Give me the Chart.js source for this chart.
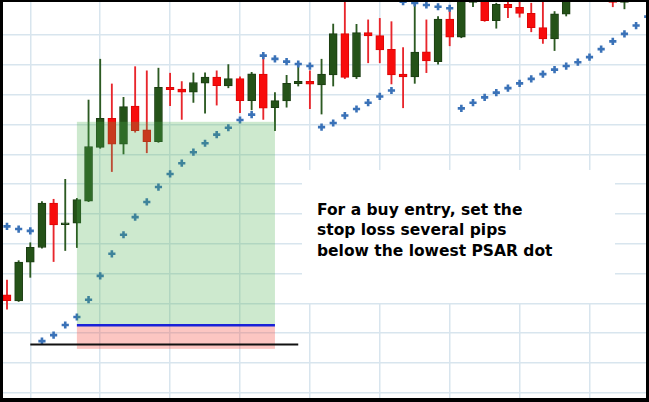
<!DOCTYPE html>
<html>
<head>
<meta charset="utf-8">
<script src="https://cdn.jsdelivr.net/npm/chart.js@4.4.1/dist/chart.umd.min.js"></script>
<style>
  html, body { margin: 0; padding: 0; background: #fff; }
  #frame {
    position: relative;
    width: 643px; height: 396px;
    border-style: solid; border-color: #000;
    border-width: 2px 3px 4px 3px;
  }
  #chart { display: block; }
  #note {
    position: absolute; left: 299px; top: 168px;
    width: 313px; height: 133px; background: #fff;
  }
  #note p {
    position: absolute; left: 15px; top: 29.5px; margin: 0;
    font: bold 15.5px 'DejaVu Sans', Verdana, sans-serif;
    line-height: 20.5px; color: #000; white-space: nowrap;
  }
</style>
</head>
<body>
<div id="frame">
  <canvas id="chart" width="643" height="396"></canvas>
  <div id="note"><p>For a buy entry, set the<br>stop loss several pips<br>below the lowest PSAR dot</p></div>
</div>
<script>
// Candle values in pips above an arbitrary base, one entry per bar (index = bar number)
const openPrices  = [32.8, 30.8, 43.8, 48.7, 63.6, 56.4, 56.9, 64.3, 82.3, 92.1, 83.4, 96.2, 88.2, 84.2,
  102.5, 101.9, 100.8, 103.9, 105.9, 102.9, 105.4, 98.0, 106.9, 95.6, 97.9, 103.7, 104.5, 103.3, 106.6,
  120.5, 106.0, 120.8, 119.8, 115.2, 106.9, 106.0, 114.4, 111.1, 125.4, 119.3, 131.0, 136, 124.8, 130.3,
  129.3, 127.3, 122.5, 118.7, 127.0, 134, 138, 135, 134, 131.0, 135];
const highPrices  = [37.8, 44.3, 50.3, 64.1, 64.9, 71.6, 65.2, 98.2, 111.9, 103.6, 99.1, 109.4, 108.0, 108.9,
  107.2, 104.4, 107.3, 107.3, 108.0, 110.1, 106.0, 107.5, 113.0, 100.7, 106.5, 110.5, 108.0, 111.9, 123.7,
  134, 123.6, 125.1, 125.6, 124.5, 115.8, 133, 125.1, 126.2, 129.3, 136, 138, 138, 130.7, 133,
  132, 130.7, 133, 127.9, 136, 140, 141, 141, 136, 136, 138];
const lowPrices   = [28.0, 30.6, 38.7, 48.5, 44.0, 47.7, 48.7, 64.1, 82.0, 74.2, 80.1, 87.4, 80.5, 84.0,
  96.3, 91.7, 97.4, 93.8, 96.5, 102.3, 94.0, 94.9, 91.7, 87.9, 95.8, 102.9, 95.3, 93.5, 102.9,
  105.4, 105.4, 110.7, 110.7, 103.6, 95.6, 103.8, 107.4, 110.2, 116.4, 119.1, 129.5, 124.6, 122.3, 125.8,
  126.0, 121.1, 117.2, 114.8, 126.4, 132.5, 133, 134, 129.5, 128.8, 133];
const closePrices = [30.9, 43.8, 48.8, 63.6, 56.3, 57.0, 64.8, 82.6, 92.1, 83.4, 96.0, 87.9, 84.2, 102.5,
  101.7, 100.8, 104.1, 105.9, 103.0, 105.4, 98.0, 107.0, 95.5, 98.0, 103.8, 104.5, 103.5, 106.9, 120.5,
  105.8, 120.8, 119.7, 115.0, 106.6, 106.0, 114.3, 111.3, 125.4, 119.3, 134, 136, 124.8, 130.3, 129.2,
  127.3, 122.5, 118.7, 127.1, 134, 138, 135, 139, 131.0, 134, 137];

// Parabolic SAR dots (one more than the candles, the last one sits on the right edge)
const psarValues = [55.8, 54.9, 54.3, 17.3, 19.3, 22.7, 25.4, 31.2, 39.2, 46.6, 53.0, 58.9, 64.0, 69.0,
  73.4, 77.0, 80.7, 83.7, 86.6, 88.9, 91.5, 93.3, 113.1, 112.0, 111.1, 110.3, 109.6, 89.1, 90.5,
  93.0, 95.2, 97.3, 99.4, 101.4, 131.2, 130.8, 130.1, 129.5, 129.0, 95.4, 97.3, 99.1, 100.7, 102.2,
  103.8, 105.3, 106.9, 108.4, 109.6, 110.9, 112.6, 115.3, 117.9, 120.4, 123.2, 126.2];

// Trade setup levels
const entryBar = 6;
const boxEndBar = 23;
const targetPrice = 90.9;
const entryPrice = 22.6;
const stopPrice = 14.7;
const lowestDotLine = 16.2;
const lowestLineStart = 2;
const lowestLineEnd = 25;

// Grid positions
const gridBars = [2, 8, 14, 20, 26, 32, 38, 44, 50];
const gridPrices = [0, 10, 20, 30, 40, 50, 60, 70, 80, 90, 100, 110, 120];

const GREEN = '#245218';
const GREEN_EDGE = '#1b3d12';
const RED = '#f80c0c';
const RED_EDGE = '#dc0606';
const GRID = '#d8e5ee';

const isUp = i => closePrices[i] >= openPrices[i];

const bodies = openPrices.map((o, i) => ({ x: i, y: [o, closePrices[i]] }));
const wicks = lowPrices.map((l, i) => ({ x: i, y: [l, highPrices[i]] }));
const dots = psarValues.map((v, i) => ({ x: i, y: v }));

const tradeSetupPlugin = {
  id: 'tradeSetup',
  afterDatasetsDraw(chart) {
    const { ctx, scales: { x, y } } = chart;
    const left = x.getPixelForValue(entryBar);
    const right = x.getPixelForValue(boxEndBar);
    const top = y.getPixelForValue(targetPrice);
    const entryY = y.getPixelForValue(entryPrice);
    const stopY = y.getPixelForValue(stopPrice);
    const lowY = y.getPixelForValue(lowestDotLine);

    ctx.save();
    ctx.fillStyle = 'rgba(76, 175, 80, 0.28)';
    ctx.fillRect(left, top, right - left, entryY - top);
    ctx.fillStyle = 'rgba(244, 67, 54, 0.3)';
    ctx.fillRect(left, entryY, right - left, stopY - entryY);

    ctx.strokeStyle = '#1a22d8';
    ctx.lineWidth = 2.4;
    ctx.beginPath();
    ctx.moveTo(left, entryY);
    ctx.lineTo(right, entryY);
    ctx.stroke();

    ctx.strokeStyle = '#111';
    ctx.lineWidth = 2;
    ctx.beginPath();
    ctx.moveTo(x.getPixelForValue(lowestLineStart), lowY);
    ctx.lineTo(x.getPixelForValue(lowestLineEnd), lowY);
    ctx.stroke();
    ctx.restore();
  }
};

new Chart(document.getElementById('chart'), {
  type: 'bar',
  data: {
    datasets: [
      {
        label: 'PSAR',
        type: 'line',
        data: dots,
        showLine: false,
        pointStyle: 'cross',
        pointRadius: 3.6,
        pointBorderWidth: 2.6,
        pointBorderColor: '#3a72b8',
        pointBackgroundColor: '#3a72b8',
        order: 1
      },
      {
        label: 'Body',
        data: bodies,
        barThickness: 8,
        grouped: false,
        borderSkipped: false,
        borderWidth: 1,
        backgroundColor: ctx => isUp(ctx.dataIndex) ? GREEN : RED,
        borderColor: ctx => isUp(ctx.dataIndex) ? GREEN_EDGE : RED_EDGE,
        order: 2
      },
      {
        label: 'Wick',
        data: wicks,
        barThickness: 1.2,
        grouped: false,
        borderWidth: 0,
        backgroundColor: ctx => isUp(ctx.dataIndex) ? '#2c5a22' : '#e8262c',
        order: 3
      }
    ]
  },
  options: {
    responsive: false,
    animation: false,
    layout: { padding: 0, autoPadding: false },
    plugins: { legend: { display: false }, tooltip: { enabled: false } },
    scales: {
      x: {
        type: 'linear',
        min: -0.343,
        max: 54.85,
        offset: false,
        ticks: { display: false },
        border: { display: false },
        grid: { color: GRID, lineWidth: 1.5, drawTicks: false, offset: false },
        afterBuildTicks: scale => { scale.ticks = gridBars.map(v => ({ value: v })); }
      },
      y: {
        type: 'linear',
        min: -1.79,
        max: 131.1,
        beginAtZero: false,
        ticks: { display: false },
        border: { display: false },
        grid: { color: GRID, lineWidth: 1.5, drawTicks: false },
        afterBuildTicks: scale => { scale.ticks = gridPrices.map(v => ({ value: v })); }
      }
    }
  },
  plugins: [tradeSetupPlugin]
});
</script>
</body>
</html>
